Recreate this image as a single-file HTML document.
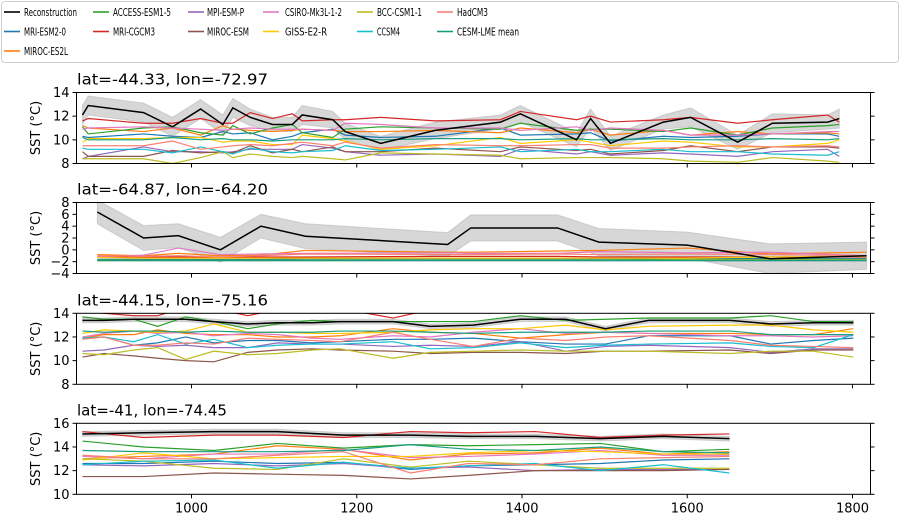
<!DOCTYPE html>
<html><head><meta charset="utf-8"><style>
html,body{margin:0;padding:0;background:#fff;}
svg{display:block;font-family:"DejaVu Sans","Liberation Sans",sans-serif;}
</style></head><body>
<svg id="chart" width="901" height="516" viewBox="0 0 901 516" xmlns="http://www.w3.org/2000/svg"></svg>
<script>
const seriesNames = ["Reconstruction","MRI-ESM2-0","MIROC-ES2L","ACCESS-ESM1-5","MRI-CGCM3","MPI-ESM-P","MIROC-ESM","CSIRO-Mk3L-1-2","GISS-E2-R","BCC-CSM1-1","CCSM4","HadCM3","CESM-LME mean"];
const seriesColors = ["#000000","#1f77b4","#ff7f0e","#2ca02c","#d62728","#9467bd","#8c564b","#e377c2","#ffc800","#bcbd22","#17becf","#fa8072","#1a9e80"];
const panelTitles = ["lat=-44.33, lon=-72.97","lat=-64.87, lon=-64.20","lat=-44.15, lon=-75.16","lat=-41, lon=-74.45"];
const yTicks = [[8,10,12,14],[-4,-2,0,2,4,6,8],[8,10,12,14],[10,12,14,16]];
const yRanges = [[8,14],[-4,8],[8,14],[10,16]];
const xTicks = [1000,1200,1400,1600,1800];

const years1 = [868,875,942,977,1011,1038,1050,1071,1098,1122,1134,1171,1186,1229,1295,1374,1398,1466,1483,1507,1571,1604,1661,1703,1770,1784];
const recon1 = [12.1,12.9,12.3,11.1,12.6,11.3,12.7,11.9,11.3,11.3,12.1,11.7,10.7,9.7,10.8,11.5,12.2,10.0,11.8,9.7,11.5,11.9,9.8,11.4,11.5,11.8];
const band1 = [0.8,0.8,0.8,0.8,0.8,0.8,0.8,0.7,0.6,0.6,0.8,0.7,0.7,0.6,0.7,0.6,0.7,0.6,0.8,0.6,0.6,0.8,0.6,0.8,0.6,0.8];
const models1 = [
 [10.3,10.2,10.5,10.3,10.2,10.7,10.5,10.6,10.0,10.3,10.6,10.9,10.4,10.2,10.3,11.0,10.4,10.5,10.6,9.9,10.3,10.2,10.3,10.5,10.5,10.3],
 [11.2,11.0,10.7,11.0,10.4,11.2,10.9,10.8,10.7,10.8,10.9,10.8,10.7,10.7,10.8,10.6,11.0,10.6,10.9,10.4,10.8,10.4,10.7,10.5,10.6,10.5],
 [11.1,10.5,11.0,11.1,10.6,10.4,11.2,10.5,11.0,11.3,10.6,10.2,10.9,11.1,11.0,10.9,11.4,10.8,10.9,10.9,10.7,11.0,10.4,11.0,11.2,11.3],
 [11.6,11.8,11.4,11.4,11.8,11.4,11.4,12.3,11.8,12.2,11.6,11.7,11.7,11.9,11.6,11.7,12.4,11.7,12.0,11.5,11.7,11.9,11.4,11.7,12.1,11.5],
 [8.4,8.6,9.4,9.0,9.0,8.9,9.0,9.2,9.2,9.2,9.6,9.3,9.0,8.7,8.8,8.6,9.2,8.8,9.0,8.7,8.9,8.8,8.6,9.0,9.2,8.6],
 [9.0,8.6,8.6,9.1,8.9,9.0,8.9,9.5,8.9,9.2,9.0,9.4,9.0,9.0,9.3,9.0,9.4,9.1,9.2,8.8,9.1,9.5,9.0,9.4,9.4,9.3],
 [10.9,11.0,11.1,11.0,10.9,10.8,10.9,11.0,10.9,10.9,10.9,10.8,11.4,11.3,11.0,11.0,10.8,11.1,10.8,11.0,10.8,10.4,10.4,10.5,10.7,10.7],
 [9.8,10.1,10.1,10.2,10.2,9.8,9.9,9.9,9.6,9.6,10.4,10.1,9.9,9.2,9.5,10.2,9.7,10.0,9.8,9.5,9.9,9.8,9.4,9.4,9.7,10.0],
 [8.4,8.4,8.4,8.0,8.5,9.0,8.5,8.8,8.6,8.5,8.6,8.4,8.3,8.9,8.8,8.7,8.4,8.5,8.5,8.5,8.4,8.2,8.1,8.5,8.2,8.1],
 [9.3,9.2,9.2,8.9,9.4,9.0,8.8,9.3,9.0,8.9,9.0,9.1,9.5,9.1,9.2,9.4,9.0,9.2,9.0,9.0,9.2,9.0,9.0,8.8,8.7,9.0],
 [9.5,9.5,9.5,9.9,9.2,9.4,9.5,9.6,9.5,9.7,9.8,9.5,9.8,9.3,9.6,9.5,9.5,9.6,9.6,9.3,9.3,9.4,9.5,9.4,9.5,9.4],
 [10.2,10.0,10.0,10.2,10.0,10.1,10.0,10.0,9.9,10.0,10.0,10.0,10.1,10.0,10.1,10.1,10.0,10.1,10.0,10.0,10.1,10.0,10.0,10.1,10.0,10.1]
];

const years2 = [886,942,984,1035,1084,1138,1310,1338,1443,1493,1600,1700,1817];
const recon2 = [6.4,2.0,2.4,0.0,4.0,2.3,0.9,3.7,3.7,1.3,0.8,-1.5,-1.0];
const band2 = [2.0,2.1,2.0,2.1,2.0,2.1,2.0,2.2,2.2,2.3,2.2,2.5,2.3];
const models2 = [
 [-1.6,-1.6,-1.6,-1.6,-1.6,-1.5,-1.5,-1.5,-1.5,-1.5,-1.4,-1.5,-1.5],
 [-0.8,-1.0,-0.6,-1.0,-0.9,-0.1,-0.4,-0.4,-0.2,-0.1,0.3,-0.7,-0.4],
 [-1.7,-1.7,-1.7,-1.7,-1.7,-1.7,-1.7,-1.7,-1.7,-1.7,-1.6,-1.6,-1.6],
 [-1.2,-1.2,-1.2,-1.3,-1.2,-1.2,-1.1,-1.1,-1.1,-1.2,-1.2,-1.2,-1.2],
 [-1.8,-1.8,-1.8,-1.8,-1.8,-1.8,-1.8,-1.8,-1.8,-1.8,-1.8,-1.8,-1.8],
 [-1.8,-1.8,-1.8,-1.8,-1.8,-1.8,-1.8,-1.8,-1.8,-1.8,-1.8,-1.8,-1.8],
 [-1.2,-0.9,0.3,-0.8,-0.7,-0.6,-0.5,-0.6,-0.6,-0.3,-0.5,-0.4,-1.0],
 [-1.3,-1.4,-1.4,-1.4,-1.4,-1.4,-1.4,-1.4,-1.4,-1.4,-1.4,-1.2,-1.1],
 [-1.8,-1.8,-1.8,-1.8,-1.8,-1.8,-1.8,-1.8,-1.8,-1.8,-1.7,-1.7,-1.7],
 [-1.8,-1.8,-1.8,-1.8,-1.8,-1.8,-1.8,-1.8,-1.8,-1.8,-1.8,-1.8,-1.8],
 [-1.0,-1.1,-1.0,-1.2,-1.0,-0.7,-0.8,-0.8,-0.7,-0.8,-0.7,-0.8,-1.0],
 [-1.8,-1.8,-1.8,-1.8,-1.8,-1.8,-1.8,-1.8,-1.8,-1.8,-1.8,-1.8,-1.8]
];

const years3 = [868,894,930,959,993,1027,1068,1104,1146,1180,1244,1289,1341,1398,1453,1501,1553,1652,1701,1753,1801];
const recon3 = [13.4,13.4,13.5,13.5,13.5,13.3,13.1,13.2,13.2,13.3,13.3,12.9,13.0,13.5,13.5,12.7,13.4,13.4,13.1,13.2,13.2];
const band3 = [0.2,0.2,0.2,0.2,0.2,0.2,0.2,0.2,0.2,0.2,0.2,0.2,0.2,0.2,0.2,0.2,0.2,0.2,0.2,0.2,0.2];
const models3 = [
 [11.9,12.0,11.3,11.5,12.0,11.5,11.7,11.7,11.5,11.6,11.8,11.8,11.9,11.6,11.4,11.4,12.1,12.1,11.4,11.7,11.9],
 [11.9,12.2,12.2,12.6,12.3,12.2,12.2,12.0,12.0,12.1,12.7,12.4,12.3,11.9,12.2,12.4,12.3,12.3,12.2,12.2,12.7],
 [13.7,13.5,13.5,12.9,13.7,13.3,12.7,13.1,13.4,13.3,13.3,13.3,13.3,13.8,13.4,13.5,13.6,13.6,13.8,13.3,13.3],
 [14.4,14.0,13.8,13.8,14.5,14.4,13.8,14.3,14.5,14.4,13.6,14.3,14.5,14.5,14.5,14.5,14.5,14.5,14.5,14.3,14.5],
 [10.8,10.9,11.3,11.2,11.3,11.1,11.1,11.5,11.4,11.4,11.2,11.3,11.2,11.6,10.8,11.2,11.3,11.1,10.7,11.0,11.0],
 [10.3,10.6,10.4,10.2,10.0,9.9,10.7,10.9,11.0,10.9,10.8,10.6,10.7,10.7,10.6,10.8,10.8,10.9,10.6,10.9,10.9],
 [12.0,12.3,12.5,12.3,12.4,12.1,12.3,12.2,11.9,11.8,12.1,12.0,12.4,12.7,12.3,12.4,12.3,12.1,12.1,12.0,12.1],
 [12.3,12.6,12.5,12.4,12.5,13.1,12.4,12.4,12.3,12.3,12.4,12.6,12.7,12.7,13.0,12.6,12.9,13.0,13.0,12.6,12.4],
 [10.6,10.5,10.9,11.1,10.1,10.8,10.5,10.6,10.9,11.0,10.2,10.7,10.8,10.9,10.8,10.8,10.8,10.6,10.8,10.8,10.3],
 [11.9,12.0,11.6,12.2,11.4,11.8,11.1,11.3,11.4,11.4,11.6,11.0,11.1,11.5,11.1,11.3,11.4,11.5,11.2,11.1,12.2],
 [11.8,12.0,11.3,11.3,11.5,11.4,11.9,11.8,11.7,11.6,12.4,11.8,11.2,11.9,11.7,12.0,12.1,11.7,11.3,11.2,11.1],
 [12.5,12.4,12.5,12.5,12.4,12.5,12.4,12.4,12.4,12.5,12.5,12.4,12.3,12.4,12.4,12.4,12.5,12.5,12.2,12.2,12.2]
];

const years4 = [868,942,1027,1104,1184,1265,1335,1416,1495,1571,1651];
const recon4 = [15.1,15.2,15.3,15.3,15.0,15.0,14.9,14.9,14.7,14.9,14.7];
const band4 = [0.2,0.2,0.2,0.2,0.2,0.2,0.2,0.2,0.2,0.2,0.2];
const models4 = [
 [12.6,12.6,12.8,12.6,12.7,12.1,12.4,12.5,12.6,12.9,13.0],
 [13.0,13.2,13.4,14.1,13.8,12.9,13.4,13.5,13.9,13.4,13.6],
 [14.5,14.0,13.7,14.3,13.9,14.2,14.1,14.2,14.3,13.6,13.8],
 [15.3,14.8,15.0,15.0,14.8,15.3,15.2,15.3,14.8,15.0,15.1],
 [12.5,12.4,12.6,12.4,12.6,12.2,12.3,12.0,12.1,12.1,12.1],
 [11.5,11.5,11.8,11.7,11.6,11.3,11.6,12.0,12.0,12.0,12.1],
 [13.2,13.0,13.4,13.4,13.8,13.1,13.2,13.4,13.7,13.3,13.3],
 [12.9,13.5,13.0,13.1,13.2,13.2,13.5,13.7,13.6,13.4,13.4],
 [13.0,12.8,12.2,12.1,13.0,12.3,12.8,12.5,12.2,12.2,12.2],
 [12.5,12.8,12.9,12.2,12.7,12.2,12.4,12.6,12.0,12.5,11.8],
 [13.3,13.0,13.0,13.3,13.6,11.8,12.6,12.5,13.0,13.1,13.2],
 [13.7,13.6,13.6,13.6,13.7,14.2,13.8,13.7,14.0,13.6,13.5]
];

const panelYears = [years1,years2,years3,years4];
const panelRecon = [recon1,recon2,recon3,recon4];
const panelBand = [band1,band2,band3,band4];
const panelModels = [models1,models2,models3,models4];

const NS = "http://www.w3.org/2000/svg";
const svg = document.getElementById("chart");
function mk(tag, attrs, parent){ const e=document.createElementNS(NS,tag); for(const k in attrs) e.setAttribute(k,attrs[k]); (parent||svg).appendChild(e); return e; }

const PL = 76.5, PR = 870.5;
const panelTop = [92.5, 202.5, 313.3, 423.3];
const panelH = 71;
const X0 = 860.8, X1 = 1821.8;
function xScale(yr){ return PL + (yr - X0) / (X1 - X0) * (PR - PL); }
function yScale(p, v){ const r=yRanges[p]; return panelTop[p] + panelH - (v - r[0])/(r[1]-r[0])*panelH; }

// legend
const lg = mk("g",{}); 


mk("rect",{x:1.5,y:1.5,width:897,height:61,rx:3,fill:"#fff",stroke:"#d0d0d0","stroke-width":1},lg);
const legCols = [[4,24],[93,113],[188,207],[263,285],[357,377],[437,457]];
const legRows = [12,31.5,51];
const legWidths = [53,42,44,58,42,37,42,57,42,45,23,31,62];
const legPos = [[0,0],[0,1],[0,2],[1,0],[1,1],[2,0],[2,1],[3,0],[3,1],[4,0],[4,1],[5,0],[5,1]];
seriesNames.forEach((n,i)=>{
  const c=legCols[legPos[i][0]], y=legRows[legPos[i][1]];
  const g=mk("g",{},lg);
  
  
  mk("line",{x1:c[0],x2:c[0]+16,y1:y,y2:y,stroke:seriesColors[i],"stroke-width":1.6},g);
  const t=mk("text",{x:c[1],y:y+4,"font-size":11,fill:"#000",textLength:legWidths[i],lengthAdjust:"spacingAndGlyphs"},g);
  t.textContent=n;
});

for(let p=0;p<4;p++){
  const top=panelTop[p], bot=top+panelH;
  const g=mk("g",{});
  
  
  const cp=mk("clipPath",{id:"clip"+p},g);
  mk("rect",{x:PL,y:top,width:PR-PL,height:panelH},cp);
  const title=mk("text",{x:77,y:top-8,"font-size":15,fill:"#000",textLength:[191,191,191,150][p],lengthAdjust:"spacingAndGlyphs"},g);
  
  
  title.textContent=panelTitles[p];
  const yl=mk("text",{x:0,y:0,"font-size":13,fill:"#000","text-anchor":"middle",transform:`translate(40,${top+panelH/2}) rotate(-90)`},g);
  
  
  yl.textContent="SST (°C)";
  const plot=mk("g",{"clip-path":`url(#clip${p})`},g);
  const yrs=panelYears[p], rec=panelRecon[p], bd=panelBand[p];
  // band
  let pts=[];
  yrs.forEach((yr,i)=>pts.push(xScale(yr)+","+yScale(p,rec[i]+bd[i])));
  for(let i=yrs.length-1;i>=0;i--) pts.push(xScale(yrs[i])+","+yScale(p,rec[i]-bd[i]));
  const band=mk("polygon",{points:pts.join(" "),fill:"#b0b0b0","fill-opacity":0.5,stroke:"#b0b0b0","stroke-opacity":0.5},plot);
  
  
  panelModels[p].forEach((vals,m)=>{
    const l=mk("polyline",{points:vals.map((v,i)=>xScale(yrs[i])+","+yScale(p,v)).join(" "),fill:"none",stroke:seriesColors[m+1],"stroke-width":1.2},plot);
    
    
  });
  const rl=mk("polyline",{points:rec.map((v,i)=>xScale(yrs[i])+","+yScale(p,v)).join(" "),fill:"none",stroke:"#000","stroke-width":1.5},plot);
  
  
  mk("rect",{x:PL,y:top,width:PR-PL,height:panelH,fill:"none",stroke:"#000","stroke-width":1},g);
  yTicks[p].forEach(t=>{
    const y=yScale(p,t);
    mk("line",{x1:PL-4,x2:PL,y1:y,y2:y,stroke:"#000","stroke-width":1},g);
    mk("line",{x1:PR,x2:PR+4,y1:y,y2:y,stroke:"#000","stroke-width":1},g);
    const tl=mk("text",{x:PL-7,y:y+4.5,"font-size":13,"text-anchor":"end",fill:"#000"},g);
    
    
    tl.textContent=t<0?"\u2212"+(-t):String(t);
  });
  xTicks.forEach(t=>{
    const x=xScale(t);
    mk("line",{x1:x,x2:x,y1:bot,y2:bot+4,stroke:"#000","stroke-width":1},g);
    if(p===3){
      const xl=mk("text",{x:x,y:bot+18,"font-size":13,"text-anchor":"middle",fill:"#000"},g);
      
      
      xl.textContent=String(t);
    }
  });
}
</script>
</body></html>
